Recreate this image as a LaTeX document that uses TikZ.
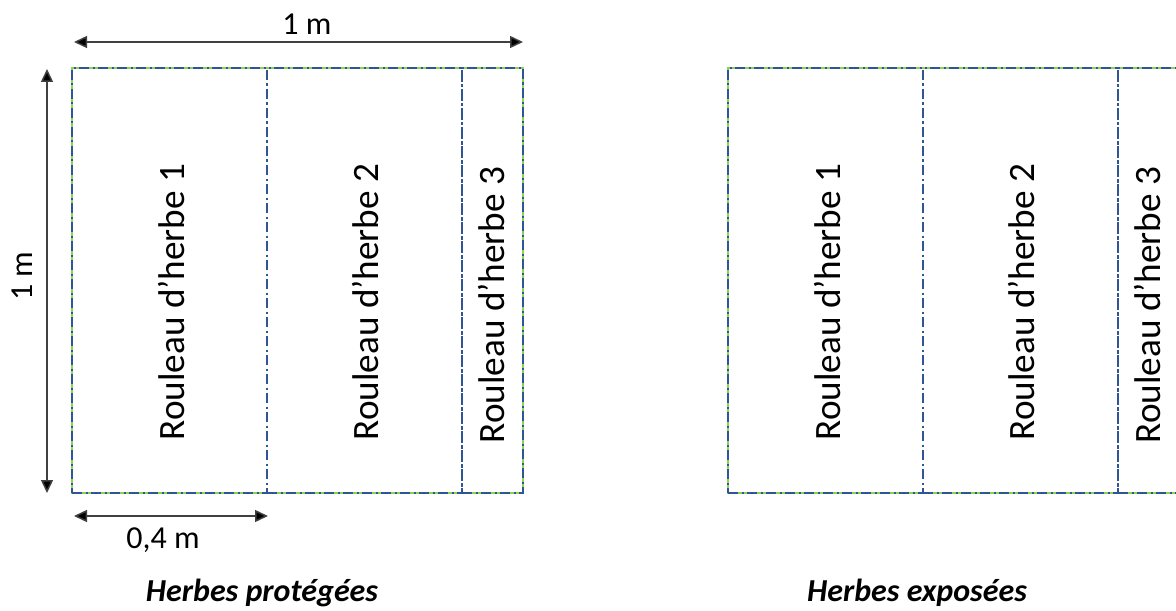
\documentclass[tikz,border=0pt]{standalone}
\usepackage{fontspec}
\setmainfont{Carlito}
\usetikzlibrary{arrows.meta}
\definecolor{rollblue}{RGB}{47,85,151}
\definecolor{rollgreen}{RGB}{146,208,80}
\definecolor{dimgray}{RGB}{64,64,64}
\tikzset{
  rollbox/.style={draw=rollblue, line width=1.2pt, dash pattern=on 5pt off 1.75pt on 1pt off 1.75pt, minimum height=212.5pt, inner sep=0pt, outer sep=0pt},
  squareline/.style={draw=rollgreen, line width=0.7pt},
  rolltext/.style={font=\fontsize{18.6}{20}\selectfont, rotate=90, anchor=center},
  dimarrow/.style={draw=dimgray, line width=0.75pt, {Triangle[length=6.5pt,width=6pt,fill=black]}-{Triangle[length=6.5pt,width=6pt,fill=black]}},
  dimtext/.style={font=\fontsize{16}{18}\selectfont},
  captiontext/.style={font=\fontsize{16}{18}\selectfont\bfseries\itshape},
}
\begin{document}
\begin{tikzpicture}[x=0.5pt,y=-0.5pt]
\useasboundingbox (0,0) rectangle (1176,610);
\clip (0,0) rectangle (1176,610);
\fill[white] (0,0) rectangle (1176,610);
% left square
\draw[squareline] (72,68) rectangle (523,493);
\node[rollbox, minimum width=97.5pt, anchor=north west] (l1) at (72,68) {};
\node[rollbox, minimum width=97.5pt, anchor=north west] (l2) at (267,68) {};
\node[rollbox, minimum width=30.5pt, anchor=north west] (l3) at (462,68) {};
\node[rolltext] (tl1) at (172,302) {Rouleau d’herbe 1};
\node[rolltext] (tl2) at (366,302) {Rouleau d’herbe 2};
\node[rolltext] (tl3) at (492,305) {Rouleau d’herbe 3};
% right square
\draw[squareline] (728,68) rectangle (1179,493);
\node[rollbox, minimum width=97.5pt, anchor=north west] (r1) at (728,68) {};
\node[rollbox, minimum width=97.5pt, anchor=north west] (r2) at (923,68) {};
\node[rollbox, minimum width=30.5pt, anchor=north west] (r3) at (1118,68) {};
\node[rolltext] (tr1) at (828,302) {Rouleau d’herbe 1};
\node[rolltext] (tr2) at (1022,302) {Rouleau d’herbe 2};
\node[rolltext] (tr3) at (1148,305) {Rouleau d’herbe 3};
% dimension arrows
\coordinate (topL) at (74,42);
\coordinate (topR) at (523,42);
\coordinate (vT) at (47,69);
\coordinate (vB) at (47,493);
\coordinate (botL) at (74,516);
\coordinate (botR) at (268,516);
\draw[dimarrow] (topL) -- (topR);
\draw[dimarrow] (vT) -- (vB);
\draw[dimarrow] (botL) -- (botR);
\node[dimtext] (d1) at (307,24) {1 m};
\node[dimtext, rotate=90] (d2) at (22,276) {1 m};
\node[dimtext] (d3) at (163,540) {0,4 m};
% captions
\node[captiontext] (c1) at (262,593) {Herbes protégées};
\node[captiontext] (c2) at (917,593) {Herbes exposées};
\end{tikzpicture}
\end{document}
